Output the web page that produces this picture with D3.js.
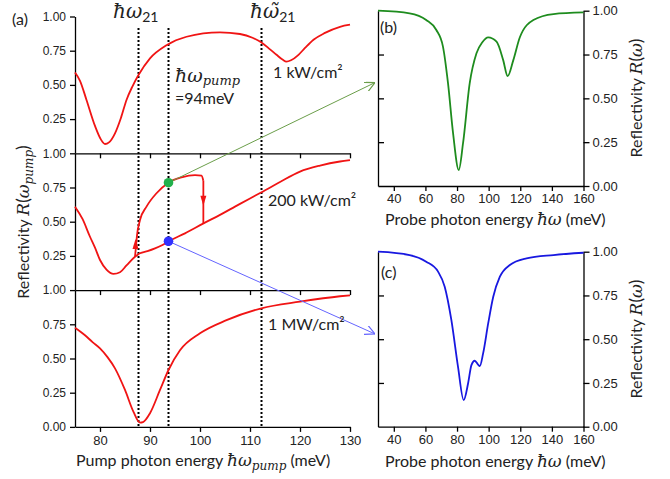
<!DOCTYPE html>
<html>
<head>
<meta charset="utf-8">
<script src="https://cdn.jsdelivr.net/npm/d3@7"></script>
<style>
  body { margin: 0; background: #fff; }
  svg { display: block; font-family: "Liberation Sans", Arial, sans-serif; }
  .lbl { font-family: Lato, "Open Sans", sans-serif; fill: #222; }
  .math { font-family: "DejaVu Serif", serif; font-style: italic; }
  .axis path, .axis line { stroke: #000; stroke-width: 1.3; }
  .axis text { fill: #222; }
</style>
</head>
<body>
<div id="chart"></div>
<script>
// values

// (a) pump sweep, 1 kW/cm2
const lowE = [75, 76, 77.3, 79, 80.2, 81, 81.8, 83, 84.2, 85.3, 86.5, 87.7, 90, 93.3, 97.3, 104, 108, 110.5, 112.3, 114, 115.3, 116.5, 117.3, 118.2, 119.7, 121, 122.7, 125, 128, 130];
const lowR = [0.59, 0.53, 0.39, 0.2, 0.1, 0.068, 0.08, 0.146, 0.26, 0.39, 0.49, 0.572, 0.694, 0.79, 0.852, 0.884, 0.872, 0.845, 0.81, 0.76, 0.72, 0.685, 0.67, 0.68, 0.72, 0.77, 0.83, 0.88, 0.925, 0.94];

// (a) 200 kW/cm2, lower branch (incl. left wing) and upper branch
const midLowE = [75, 76.5, 78, 79, 80, 81.3, 82.7, 84, 85.3, 87, 88, 89.5, 91, 92.5, 93.7, 97, 100.7, 104, 107, 110, 112.3, 116, 120, 124, 128, 130];
const midLowR = [0.61, 0.52, 0.39, 0.31, 0.22, 0.15, 0.118, 0.13, 0.18, 0.244, 0.269, 0.285, 0.305, 0.33, 0.357, 0.415, 0.488, 0.55, 0.61, 0.67, 0.715, 0.79, 0.866, 0.91, 0.94, 0.95];
const midUpE = [87, 87.15, 87.4, 88, 89.3, 91.3, 93.7, 96.3, 99, 100.3, 100.67];
const midUpR = [0.244, 0.3, 0.4, 0.512, 0.61, 0.708, 0.785, 0.824, 0.841, 0.836, 0.8];
const jumpE = 100.67, jumpR = [0.8, 0.488];

// (a) 1 MW/cm2
const highE = [75, 77, 78.5, 80, 81.5, 83, 85, 86.7, 88, 88.6, 90, 92, 93.7, 96, 100, 105.3, 112.3, 120, 128, 130];
const highR = [0.725, 0.67, 0.62, 0.574, 0.51, 0.428, 0.27, 0.11, 0.031, 0.035, 0.1, 0.27, 0.416, 0.56, 0.684, 0.78, 0.867, 0.915, 0.955, 0.962];

// (b) probe spectrum, upper state
const probeGE = [30, 50, 60.5, 66.9, 71.1, 74.3, 77.5, 81.1, 83.8, 88, 92.3, 96, 99.7, 105, 109.2, 112, 115.6, 119.8, 128.3, 141, 160];
const probeGR = [1.0, 0.985, 0.947, 0.89, 0.795, 0.585, 0.3, 0.091, 0.244, 0.585, 0.757, 0.82, 0.848, 0.823, 0.718, 0.627, 0.718, 0.85, 0.947, 0.981, 0.99];

// (c) probe spectrum, lower state
const probeBE = [30, 50, 60.5, 68, 72.2, 76.4, 80.6, 84.2, 87, 89.1, 91.2, 93.3, 94.4, 96.5, 99.7, 102.9, 107.1, 113.4, 124, 141, 160];
const probeBR = [1.0, 0.981, 0.943, 0.886, 0.8, 0.61, 0.343, 0.152, 0.248, 0.352, 0.377, 0.355, 0.347, 0.419, 0.59, 0.743, 0.857, 0.924, 0.962, 0.981, 0.994];

const markE = [87.7, 93.7, 112.3];  // ħω21, ħω_pump, ħω~21
const pumpE = 93.7;
const dotR = [0.785, 0.357];        // green / blue state at the pump energy

const pumpTicks = [80, 90, 100, 110, 120, 130];
const probeTicks = [40, 60, 80, 100, 120, 140, 160];
const reflTicks = [0, 0.25, 0.5, 0.75, 1];

const W = 670, H = 479;
const red = "#f01414";

const svg = d3.select("#chart").append("svg")
  .attr("width", W).attr("height", H)
  .attr("viewBox", `0 0 ${W} ${H}`);

const defs = svg.append("defs");
[["gArrow", "#6b9e4a"], ["bArrow", "#6464ff"]].forEach(([id, c]) => {
  defs.append("marker").attr("id", id)
    .attr("viewBox", "0 0 10 10").attr("refX", 10).attr("refY", 5)
    .attr("markerWidth", 10).attr("markerHeight", 10)
    .attr("markerUnits", "userSpaceOnUse").attr("orient", "auto")
    .append("path").attr("d", "M0,0 L10,5 L0,10")
    .attr("fill", "none").attr("stroke", c).attr("stroke-width", 1.2);
});

// ---- panel (a) scales
const xA = d3.scaleLinear().domain([75, 130]).range([75, 350]);
const panelTop = [16.5, 153.3, 290.1], panelH = 136.8;
const yA = panelTop.map(t => d3.scaleLinear().domain([0, 1]).range([t + panelH, t]));

// ---- panels (b), (c) scales
const xP = d3.scaleLinear().domain([30, 160]).range([378, 583.5]);
const yB = d3.scaleLinear().domain([0, 1]).range([186, 10.7]);
const yC = d3.scaleLinear().domain([0, 1]).range([426.7, 251.7]);

// dotted marker lines
svg.append("g").selectAll("line").data(markE).join("line")
  .attr("x1", d => xA(d)).attr("x2", d => xA(d))
  .attr("y1", 28).attr("y2", 428)
  .attr("stroke", "#000").attr("stroke-width", 2)
  .attr("stroke-dasharray", "2,2");

// axes (a)
yA.forEach((y, i) => {
  svg.append("g").attr("class", "axis")
    .attr("transform", "translate(75,0)")
    .call(d3.axisLeft(y)
      .tickValues(i == 2 ? reflTicks : reflTicks.slice(1))
      .tickFormat(d3.format(".2f"))
      .tickSize(5).tickSizeOuter(0).tickPadding(4))
    .call(g => g.selectAll("text").attr("font-size", 12));

  svg.append("g").attr("class", "axis")
    .attr("transform", `translate(0,${panelTop[i] + panelH})`)
    .call(d3.axisBottom(xA).tickValues(pumpTicks)
      .tickFormat(i == 2 ? d3.format("d") : "")
      .tickSize(5).tickSizeOuter(0).tickPadding(4))
    .call(g => g.selectAll("text").attr("font-size", 13));
});

// axes (b), (c)
[[yB, 186], [yC, 426.7]].forEach(([y, base]) => {
  svg.append("g").attr("class", "axis")
    .attr("transform", "translate(583.5,0)")
    .call(d3.axisRight(y).tickValues(reflTicks).tickFormat(d3.format(".2f"))
      .tickSize(6).tickSizeOuter(0).tickPadding(3))
    .call(g => g.selectAll("text").attr("font-size", 13));
  svg.append("g").attr("class", "axis")
    .attr("transform", "translate(378,0)")
    .call(d3.axisRight(y).tickValues([0.25, 0.5, 0.75]).tickFormat("")
      .tickSize(6).tickSizeOuter(0));
  svg.append("g").attr("class", "axis")
    .attr("transform", `translate(0,${base})`)
    .call(d3.axisBottom(xP).tickValues(probeTicks).tickFormat(d3.format("d"))
      .tickSize(5).tickSizeOuter(0).tickPadding(3))
    .call(g => g.selectAll("text").attr("font-size", 13));
});

// curves
function curve(E, R, x, y, color) {
  svg.append("path")
    .datum(d3.zip(E, R))
    .attr("fill", "none").attr("stroke", color).attr("stroke-width", 1.8)
    .attr("d", d3.line().x(d => x(d[0])).y(d => y(d[1])).curve(d3.curveMonotoneX));
}
curve(lowE, lowR, xA, yA[0], red);
curve(midLowE, midLowR, xA, yA[1], red);
curve(midUpE, midUpR, xA, yA[1], red);
curve(highE, highR, xA, yA[2], red);
curve(probeGE, probeGR, xP, yB, "#1e8c1e");
curve(probeBE, probeBR, xP, yC, "#1818e0");

// jump down of the hysteresis loop
svg.append("line")
  .attr("x1", xA(jumpE)).attr("x2", xA(jumpE))
  .attr("y1", yA[1](jumpR[0])).attr("y2", yA[1](jumpR[1]))
  .attr("stroke", red).attr("stroke-width", 1.8);

// direction arrows on the loop: up on the left, down on the jump
const tri = [[87.1, 0.33, 1], [jumpE, 0.66, -1]];
svg.append("g").selectAll("path").data(tri).join("path")
  .attr("transform", d => `translate(${xA(d[0])},${yA[1](d[1])}) scale(1,${d[2]})`)
  .attr("d", "M0,-6 L3,4 L-3,4 Z")
  .attr("fill", red);

// links to the probe spectra
const links = [
  [dotR[0], 375, yB(0.59), "#6b9e4a", "gArrow"],
  [dotR[1], 375, yC(0.53), "#6464ff", "bArrow"]
];
links.forEach(([r, x2, y2, c, m]) => {
  svg.append("line")
    .attr("x1", xA(pumpE)).attr("y1", yA[1](r))
    .attr("x2", x2).attr("y2", y2)
    .attr("stroke", c).attr("stroke-width", 1)
    .attr("marker-end", `url(#${m})`);
});
svg.append("g").selectAll("circle").data(dotR).join("circle")
  .attr("cx", xA(pumpE)).attr("cy", d => yA[1](d)).attr("r", 4.8)
  .attr("fill", (d, i) => i == 0 ? "#22b04b" : "#3030ff");

// ---- text
function label(x, y, parts, rot) {
  const t = svg.append("text").attr("class", "lbl")
    .attr("x", x).attr("y", y).attr("font-size", 16);
  if (rot) t.attr("text-anchor", "middle").attr("transform", `rotate(-90,${x},${y})`);
  parts.forEach(p => {
    const s = t.append("tspan").text(p.t);
    if (p.m) s.attr("class", "math");
    if (p.fs) s.attr("font-size", p.fs);
    if (p.dy) s.attr("dy", p.dy);
  });
  return t;
}

label(12, 25, [{ t: "(a)" }]);
label(380, 33, [{ t: "(b)" }]);
label(381, 278, [{ t: "(c)" }]);

label(113, 18, [{ t: "ħω", m: 1, fs: 20 }, { t: "21", fs: 14, dy: 4 }]);
label(250, 18, [{ t: "ħω̃", m: 1, fs: 20 }, { t: "21", fs: 14, dy: 4 }]);
label(175, 82, [{ t: "ħω", m: 1, fs: 19 }, { t: "pump", m: 1, fs: 13, dy: 3 }]);
label(175, 104, [{ t: "=94meV" }]);
label(273, 78, [{ t: "1 kW/cm²" }]);
label(268, 206, [{ t: "200 kW/cm²" }]);
label(268, 330, [{ t: "1 MW/cm²" }]);

label(76, 466, [{ t: "Pump photon energy  " }, { t: "ħω", m: 1, fs: 17 },
  { t: "pump", m: 1, fs: 12, dy: 4 }, { t: " (meV)", dy: -4 }]);
[225, 467].forEach(y =>
  label(385, y, [{ t: "Probe photon energy  " }, { t: "ħω", m: 1, fs: 17 }, { t: " (meV)" }]));

label(29, 222, [{ t: "Reflectivity  " }, { t: "R", m: 1, fs: 17 }, { t: "(", fs: 17 },
  { t: "ω", m: 1, fs: 17 }, { t: "pump", m: 1, fs: 12, dy: 4 }, { t: ")", fs: 17, dy: -4 }], true);
[98, 339].forEach(y =>
  label(642, y, [{ t: "Reflectivity " }, { t: "R", m: 1, fs: 17 }, { t: "(", fs: 17 },
    { t: "ω", m: 1, fs: 17 }, { t: ")", fs: 17 }], true));
</script>
</body>
</html>
